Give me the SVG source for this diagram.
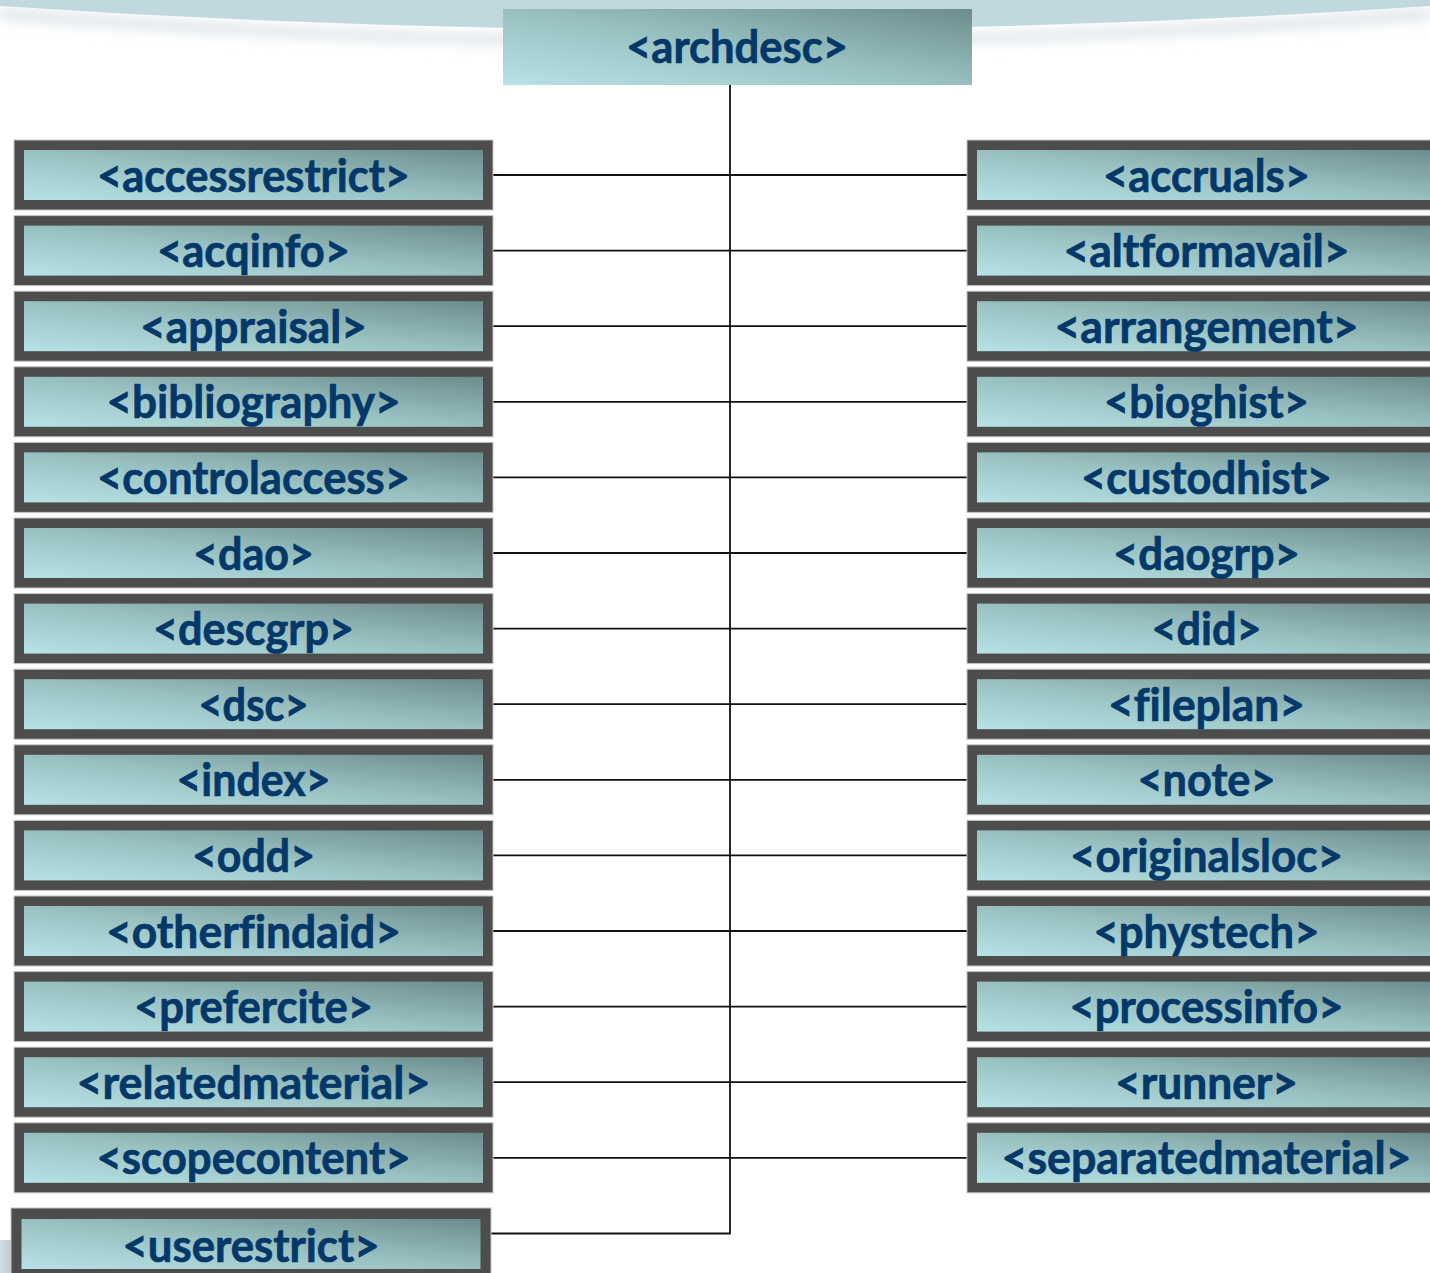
<svg xmlns="http://www.w3.org/2000/svg" width="1430" height="1273" viewBox="0 0 1430 1273">
<defs>
<linearGradient id="g" x1="0" y1="1" x2="1" y2="0">
<stop offset="0" stop-color="#b7e3e6"/>
<stop offset="0.5" stop-color="#98c0c1"/>
<stop offset="1" stop-color="#6d8c8c"/>
</linearGradient>
<linearGradient id="arrowg" x1="0" y1="0" x2="1" y2="0">
<stop offset="0" stop-color="#c9d3dc"/>
<stop offset="1" stop-color="#9aaab8"/>
</linearGradient>
<filter id="blur" x="-10%" y="-50%" width="120%" height="200%"><feGaussianBlur stdDeviation="6"/></filter>
<style>
.outer{fill:#4d4d4d;stroke:#c4c4c4;stroke-width:1}
.inner{fill:url(#g)}
.lbl{font-family:Lato,"Liberation Sans",sans-serif;font-weight:bold;font-size:45px;fill:#043869;stroke:#043869;stroke-width:0.7;text-anchor:middle;font-variant-ligatures:none}
.conn{stroke:#111;stroke-width:1.8;fill:none}
</style>
</defs>
<rect width="1430" height="1273" fill="#ffffff"/>
<path d="M0,8 Q715,66 1430,8 L1430,20 Q715,74 0,20 Z" fill="#dfe6ea" filter="url(#blur)"/>
<path d="M0,0 L0,6 Q715,54 1430,6 L1430,0 Z" fill="#c2d8df"/>
<path d="M0,1240 L10,1240 L22,1256 L10,1273 L0,1273 Z" fill="url(#arrowg)" opacity="0.8"/>

<g id="connectors">
<line class="conn" x1="489" y1="175" x2="971" y2="175"/>
<line class="conn" x1="489" y1="250.6" x2="971" y2="250.6"/>
<line class="conn" x1="489" y1="326.2" x2="971" y2="326.2"/>
<line class="conn" x1="489" y1="401.8" x2="971" y2="401.8"/>
<line class="conn" x1="489" y1="477.4" x2="971" y2="477.4"/>
<line class="conn" x1="489" y1="553" x2="971" y2="553"/>
<line class="conn" x1="489" y1="628.6" x2="971" y2="628.6"/>
<line class="conn" x1="489" y1="704.2" x2="971" y2="704.2"/>
<line class="conn" x1="489" y1="779.8" x2="971" y2="779.8"/>
<line class="conn" x1="489" y1="855.4" x2="971" y2="855.4"/>
<line class="conn" x1="489" y1="931" x2="971" y2="931"/>
<line class="conn" x1="489" y1="1006.6" x2="971" y2="1006.6"/>
<line class="conn" x1="489" y1="1082.2" x2="971" y2="1082.2"/>
<line class="conn" x1="489" y1="1157.8" x2="971" y2="1157.8"/>
<path class="conn" d="M487,1233.5 L730,1233.5 L730,85"/>
</g>

<g id="n-archdesc">
<rect x="503" y="9" width="469" height="76" class="inner"/>
<text class="lbl" x="737" y="63" font-size="42" textLength="222" lengthAdjust="spacingAndGlyphs">&lt;archdesc&gt;</text>
</g>

<g id="n-accessrestrict" transform="translate(14,140)"><rect class="outer" width="479" height="70"/><rect class="inner" x="10" y="10" width="459" height="50"/><text class="lbl" x="239.5" y="51.5" textLength="313" lengthAdjust="spacingAndGlyphs">&lt;accessrestrict&gt;</text></g>
<g id="n-acqinfo" transform="translate(14,215.6)"><rect class="outer" width="479" height="70"/><rect class="inner" x="10" y="10" width="459" height="50"/><text class="lbl" x="239.5" y="51.5" textLength="193" lengthAdjust="spacingAndGlyphs">&lt;acqinfo&gt;</text></g>
<g id="n-appraisal" transform="translate(14,291.2)"><rect class="outer" width="479" height="70"/><rect class="inner" x="10" y="10" width="459" height="50"/><text class="lbl" x="239.5" y="51.5" textLength="227" lengthAdjust="spacingAndGlyphs">&lt;appraisal&gt;</text></g>
<g id="n-bibliography" transform="translate(14,366.8)"><rect class="outer" width="479" height="70"/><rect class="inner" x="10" y="10" width="459" height="50"/><text class="lbl" x="239.5" y="51.5" textLength="294" lengthAdjust="spacingAndGlyphs">&lt;bibliography&gt;</text></g>
<g id="n-controlaccess" transform="translate(14,442.4)"><rect class="outer" width="479" height="70"/><rect class="inner" x="10" y="10" width="459" height="50"/><text class="lbl" x="239.5" y="51.5" textLength="313" lengthAdjust="spacingAndGlyphs">&lt;controlaccess&gt;</text></g>
<g id="n-dao" transform="translate(14,518)"><rect class="outer" width="479" height="70"/><rect class="inner" x="10" y="10" width="459" height="50"/><text class="lbl" x="239.5" y="51.5" textLength="121" lengthAdjust="spacingAndGlyphs">&lt;dao&gt;</text></g>
<g id="n-descgrp" transform="translate(14,593.6)"><rect class="outer" width="479" height="70"/><rect class="inner" x="10" y="10" width="459" height="50"/><text class="lbl" x="239.5" y="51.5" textLength="201" lengthAdjust="spacingAndGlyphs">&lt;descgrp&gt;</text></g>
<g id="n-dsc" transform="translate(14,669.2)"><rect class="outer" width="479" height="70"/><rect class="inner" x="10" y="10" width="459" height="50"/><text class="lbl" x="239.5" y="51.5" textLength="110" lengthAdjust="spacingAndGlyphs">&lt;dsc&gt;</text></g>
<g id="n-index" transform="translate(14,744.8)"><rect class="outer" width="479" height="70"/><rect class="inner" x="10" y="10" width="459" height="50"/><text class="lbl" x="239.5" y="51.5" textLength="154" lengthAdjust="spacingAndGlyphs">&lt;index&gt;</text></g>
<g id="n-odd" transform="translate(14,820.4)"><rect class="outer" width="479" height="70"/><rect class="inner" x="10" y="10" width="459" height="50"/><text class="lbl" x="239.5" y="51.5" textLength="123" lengthAdjust="spacingAndGlyphs">&lt;odd&gt;</text></g>
<g id="n-otherfindaid" transform="translate(14,896)"><rect class="outer" width="479" height="70"/><rect class="inner" x="10" y="10" width="459" height="50"/><text class="lbl" x="239.5" y="51.5" textLength="295" lengthAdjust="spacingAndGlyphs">&lt;otherfindaid&gt;</text></g>
<g id="n-prefercite" transform="translate(14,971.6)"><rect class="outer" width="479" height="70"/><rect class="inner" x="10" y="10" width="459" height="50"/><text class="lbl" x="239.5" y="51.5" textLength="239" lengthAdjust="spacingAndGlyphs">&lt;prefercite&gt;</text></g>
<g id="n-relatedmaterial" transform="translate(14,1047.2)"><rect class="outer" width="479" height="70"/><rect class="inner" x="10" y="10" width="459" height="50"/><text class="lbl" x="239.5" y="51.5" textLength="354" lengthAdjust="spacingAndGlyphs">&lt;relatedmaterial&gt;</text></g>
<g id="n-scopecontent" transform="translate(14,1122.8)"><rect class="outer" width="479" height="70"/><rect class="inner" x="10" y="10" width="459" height="50"/><text class="lbl" x="239.5" y="51.5" textLength="314" lengthAdjust="spacingAndGlyphs">&lt;scopecontent&gt;</text></g>
<g id="n-userestrict" transform="translate(11,1208)"><rect class="outer" width="480" height="75"/><rect class="inner" x="10.5" y="11" width="459" height="50"/><text class="lbl" x="240" y="53.5" textLength="257" lengthAdjust="spacingAndGlyphs">&lt;userestrict&gt;</text></g>

<g id="n-accruals" transform="translate(967,140)"><rect class="outer" width="479" height="70"/><rect class="inner" x="10" y="10" width="459" height="50"/><text class="lbl" x="239.5" y="51.5" textLength="207" lengthAdjust="spacingAndGlyphs">&lt;accruals&gt;</text></g>
<g id="n-altformavail" transform="translate(967,215.6)"><rect class="outer" width="479" height="70"/><rect class="inner" x="10" y="10" width="459" height="50"/><text class="lbl" x="239.5" y="51.5" textLength="286" lengthAdjust="spacingAndGlyphs">&lt;altformavail&gt;</text></g>
<g id="n-arrangement" transform="translate(967,291.2)"><rect class="outer" width="479" height="70"/><rect class="inner" x="10" y="10" width="459" height="50"/><text class="lbl" x="239.5" y="51.5" textLength="304" lengthAdjust="spacingAndGlyphs">&lt;arrangement&gt;</text></g>
<g id="n-bioghist" transform="translate(967,366.8)"><rect class="outer" width="479" height="70"/><rect class="inner" x="10" y="10" width="459" height="50"/><text class="lbl" x="239.5" y="51.5" textLength="205" lengthAdjust="spacingAndGlyphs">&lt;bioghist&gt;</text></g>
<g id="n-custodhist" transform="translate(967,442.4)"><rect class="outer" width="479" height="70"/><rect class="inner" x="10" y="10" width="459" height="50"/><text class="lbl" x="239.5" y="51.5" textLength="251" lengthAdjust="spacingAndGlyphs">&lt;custodhist&gt;</text></g>
<g id="n-daogrp" transform="translate(967,518)"><rect class="outer" width="479" height="70"/><rect class="inner" x="10" y="10" width="459" height="50"/><text class="lbl" x="239.5" y="51.5" textLength="187" lengthAdjust="spacingAndGlyphs">&lt;daogrp&gt;</text></g>
<g id="n-did" transform="translate(967,593.6)"><rect class="outer" width="479" height="70"/><rect class="inner" x="10" y="10" width="459" height="50"/><text class="lbl" x="239.5" y="51.5" textLength="110" lengthAdjust="spacingAndGlyphs">&lt;did&gt;</text></g>
<g id="n-fileplan" transform="translate(967,669.2)"><rect class="outer" width="479" height="70"/><rect class="inner" x="10" y="10" width="459" height="50"/><text class="lbl" x="239.5" y="51.5" textLength="197" lengthAdjust="spacingAndGlyphs">&lt;fileplan&gt;</text></g>
<g id="n-note" transform="translate(967,744.8)"><rect class="outer" width="479" height="70"/><rect class="inner" x="10" y="10" width="459" height="50"/><text class="lbl" x="239.5" y="51.5" textLength="138" lengthAdjust="spacingAndGlyphs">&lt;note&gt;</text></g>
<g id="n-originalsloc" transform="translate(967,820.4)"><rect class="outer" width="479" height="70"/><rect class="inner" x="10" y="10" width="459" height="50"/><text class="lbl" x="239.5" y="51.5" textLength="273" lengthAdjust="spacingAndGlyphs">&lt;originalsloc&gt;</text></g>
<g id="n-phystech" transform="translate(967,896)"><rect class="outer" width="479" height="70"/><rect class="inner" x="10" y="10" width="459" height="50"/><text class="lbl" x="239.5" y="51.5" textLength="226" lengthAdjust="spacingAndGlyphs">&lt;phystech&gt;</text></g>
<g id="n-processinfo" transform="translate(967,971.6)"><rect class="outer" width="479" height="70"/><rect class="inner" x="10" y="10" width="459" height="50"/><text class="lbl" x="239.5" y="51.5" textLength="274" lengthAdjust="spacingAndGlyphs">&lt;processinfo&gt;</text></g>
<g id="n-runner" transform="translate(967,1047.2)"><rect class="outer" width="479" height="70"/><rect class="inner" x="10" y="10" width="459" height="50"/><text class="lbl" x="239.5" y="51.5" textLength="183" lengthAdjust="spacingAndGlyphs">&lt;runner&gt;</text></g>
<g id="n-separatedmaterial" transform="translate(967,1122.8)"><rect class="outer" width="479" height="70"/><rect class="inner" x="10" y="10" width="459" height="50"/><text class="lbl" x="239.5" y="51.5" textLength="410" lengthAdjust="spacingAndGlyphs">&lt;separatedmaterial&gt;</text></g>
</svg>
